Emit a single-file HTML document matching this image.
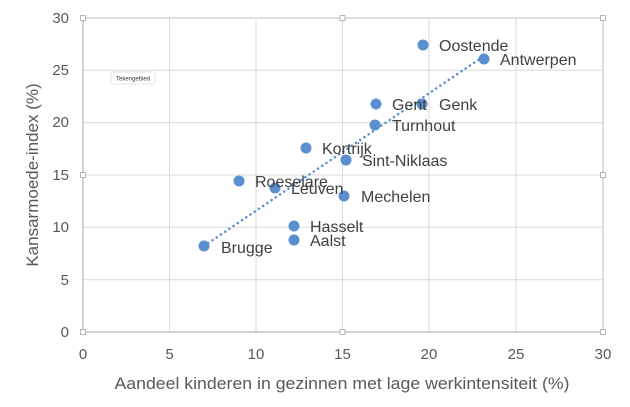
<!DOCTYPE html>
<html><head><meta charset="utf-8"><style>
html,body{margin:0;padding:0;background:#fff;}
svg text{font-family:"Liberation Sans",sans-serif;}
</style></head><body>
<svg width="630" height="402" xmlns="http://www.w3.org/2000/svg">
<g stroke="#d9d9d9" stroke-width="1">
<line x1="169.5" y1="18" x2="169.5" y2="332"/><line x1="256" y1="18" x2="256" y2="332"/><line x1="342.5" y1="18" x2="342.5" y2="332"/><line x1="429" y1="18" x2="429" y2="332"/><line x1="516" y1="18" x2="516" y2="332"/>
<line x1="83" y1="70.3" x2="603" y2="70.3"/><line x1="83" y1="122.7" x2="603" y2="122.7"/><line x1="83" y1="175" x2="603" y2="175"/><line x1="83" y1="227.3" x2="603" y2="227.3"/><line x1="83" y1="279.7" x2="603" y2="279.7"/>
</g>
<rect x="83" y="18" width="520" height="314" fill="none" stroke="#bfbfbf" stroke-width="1"/>
<line x1="83" y1="332" x2="603" y2="332" stroke="#a6a6a6"/>
<line x1="83" y1="18" x2="83" y2="332" stroke="#a6a6a6"/>
<g fill="#fff" stroke="#a6a6a6" stroke-width="0.8">
<rect x="80.5" y="15.5" width="5" height="5"/><rect x="340" y="15.5" width="5" height="5"/><rect x="600.5" y="15.5" width="5" height="5"/>
<rect x="80.5" y="172.5" width="5" height="5"/><rect x="600.5" y="172.5" width="5" height="5"/>
<rect x="80.5" y="329.5" width="5" height="5"/><rect x="340" y="329.5" width="5" height="5"/><rect x="600.5" y="329.5" width="5" height="5"/>
</g>
<rect x="111" y="72" width="44" height="12" fill="#fff" stroke="#e6e6e6" rx="2"/>
<text x="133" y="80.5" font-size="6" text-anchor="middle" fill="#333">Tekengebied</text>
<line x1="204" y1="246" x2="484" y2="56" stroke="#5b8fd0" stroke-width="2.5" stroke-dasharray="0.1 5" stroke-linecap="round"/>
<g fill="#5b8fd0">
<circle cx="423" cy="45" r="5.5"/><circle cx="484" cy="59" r="5.5"/><circle cx="376" cy="104" r="5.5"/><circle cx="422" cy="104" r="5.5"/>
<circle cx="375" cy="125" r="5.5"/><circle cx="306" cy="148" r="5.5"/><circle cx="346" cy="160" r="5.5"/><circle cx="239" cy="181" r="5.5"/>
<circle cx="275" cy="188" r="5.5"/><circle cx="344" cy="196" r="5.5"/><circle cx="294" cy="226" r="5.5"/><circle cx="294" cy="240" r="5.5"/>
<circle cx="204" cy="246" r="5.5"/>
</g>
<g font-size="16" fill="#404040">
<text x="439" y="51">Oostende</text><text x="500" y="65">Antwerpen</text>
<text x="392" y="110">Gent</text><text x="439" y="110">Genk</text>
<text x="392" y="131">Turnhout</text><text x="322" y="154">Kortrijk</text>
<text x="362" y="166">Sint-Niklaas</text><text x="255" y="187">Roeselare</text>
<text x="291" y="194">Leuven</text><text x="361" y="202">Mechelen</text>
<text x="310" y="232">Hasselt</text><text x="310" y="246">Aalst</text>
<text x="221" y="253">Brugge</text>
</g>
<g font-size="15" fill="#595959" text-anchor="end">
<text x="69" y="23">30</text><text x="69" y="75">25</text><text x="69" y="127">20</text><text x="69" y="180">15</text><text x="69" y="232">10</text><text x="69" y="285">5</text><text x="69" y="337">0</text>
</g>
<g font-size="15" fill="#595959" text-anchor="middle">
<text x="83" y="359">0</text><text x="169.5" y="359">5</text><text x="256" y="359">10</text><text x="342.5" y="359">15</text><text x="429" y="359">20</text><text x="516" y="359">25</text><text x="603" y="359">30</text>
</g>
<text x="342" y="389" font-size="17" fill="#595959" text-anchor="middle" textLength="455" lengthAdjust="spacingAndGlyphs">Aandeel kinderen in gezinnen met lage werkintensiteit (%)</text>
<text transform="translate(38,175) rotate(-90)" font-size="17" fill="#595959" text-anchor="middle">Kansarmoede-index (%)</text>
</svg>
</body></html>
